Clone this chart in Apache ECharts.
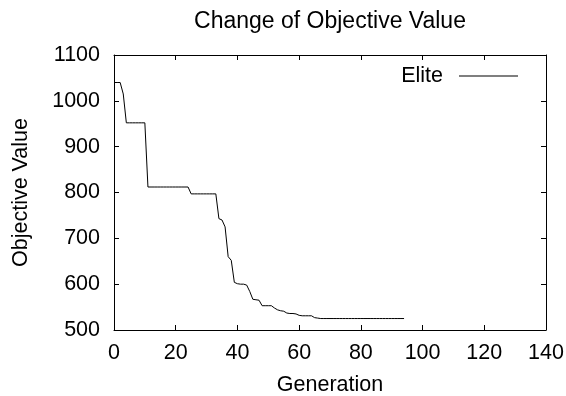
<!DOCTYPE html>
<html>
<head>
<meta charset="utf-8">
<script src="https://cdn.jsdelivr.net/npm/echarts@6/dist/echarts.min.js"></script>
<style>html,body{margin:0;padding:0;background:#fff}#c{width:566px;height:396px}</style>
</head>
<body>
<div id="c"></div>
<script>
var titleText = 'Change of Objective Value';
var seriesName = 'Elite';
var xName = 'Generation';
var yName = 'Objective Value';
var xTicks = [0, 20, 40, 60, 80, 100, 120, 140];
var yTicks = [500, 600, 700, 800, 900, 1000, 1100];
var generations = [];
for (var g = 0; g <= 94; g++) generations.push(g);
var eliteValues = [
  1040, 1040, 1040, 1015, 952, 952, 952, 952, 952, 952,
  952, 812, 812, 812, 812, 812, 812, 812, 812, 812,
  812, 812, 812, 812, 812, 797, 797, 797, 797, 797,
  797, 797, 797, 797, 743, 740, 725, 660, 652, 604,
  601, 600, 600, 598, 584, 567, 566, 565, 553, 553,
  553, 553, 548, 544, 542, 541, 537, 536, 536, 535,
  532, 531, 531, 531, 531, 527, 526, 525, 525, 525,
  525, 525, 525, 525, 525, 525, 525, 525, 525, 525,
  525, 525, 525, 525, 525, 525, 525, 525, 525, 525,
  525, 525, 525, 525, 525
];

var FONT = '"Liberation Sans", Arial, sans-serif';
var FS = 21.5;
var chart = echarts.init(document.getElementById('c'), null, {renderer: 'canvas'});
var pts = generations.map(function (x, i) { return [x, eliteValues[i]]; });
function plain(v) { return String(v); }

function axisCommon(extra) {
  var o = {
    axisLine: {show: true, onZero: false, lineStyle: {color: '#000', width: 1}},
    axisTick: {show: true, inside: true, length: 5, lineStyle: {color: '#000', width: 1}},
    splitLine: {show: false},
    axisLabel: {color: '#000', fontFamily: FONT, fontSize: FS, formatter: plain}
  };
  for (var k in extra) o[k] = extra[k];
  return o;
}

chart.setOption({
  animation: false,
  backgroundColor: '#fff',
  grid: {left: 114, right: 20, top: 55, bottom: 66, containLabel: false, outerBoundsMode: 'none'},
  graphic: [{
    type: 'text', x: 330, y: 22,
    style: {text: titleText, fill: '#000', font: '23px ' + FONT, textAlign: 'center', textVerticalAlign: 'middle'}
  }],
  legend: {
    data: [{name: seriesName, icon: 'rect'}],
    right: 48, top: 65, padding: 0, align: 'right',
    itemWidth: 59, itemHeight: 1,
    textStyle: {color: '#000', fontFamily: FONT, fontSize: FS, padding: [0, 11, 0, 0]}
  },
  xAxis: [
    axisCommon({type: 'value', min: xTicks[0], max: xTicks[xTicks.length - 1], interval: xTicks[1] - xTicks[0],
      name: xName, nameLocation: 'middle', nameGap: 44,
      nameTextStyle: {color: '#000', fontFamily: FONT, fontSize: FS},
      axisLabel: {color: '#000', fontFamily: FONT, fontSize: FS, margin: 12, formatter: plain}}),
    axisCommon({type: 'value', position: 'top', min: xTicks[0], max: xTicks[xTicks.length - 1], interval: xTicks[1] - xTicks[0],
      axisLabel: {show: false}})
  ],
  yAxis: [
    axisCommon({type: 'value', min: yTicks[0], max: yTicks[yTicks.length - 1], interval: yTicks[1] - yTicks[0],
      name: yName, nameLocation: 'middle', nameGap: 82, nameRotate: 90,
      nameTextStyle: {color: '#000', fontFamily: FONT, fontSize: FS},
      axisLabel: {color: '#000', fontFamily: FONT, fontSize: FS, margin: 14, formatter: plain}}),
    axisCommon({type: 'value', position: 'right', min: yTicks[0], max: yTicks[yTicks.length - 1], interval: yTicks[1] - yTicks[0],
      axisLabel: {show: false}})
  ],
  series: [{
    name: seriesName, type: 'line', data: pts, symbol: 'none', showSymbol: false,
    lineStyle: {color: '#000', width: 1}, itemStyle: {color: '#000'}
  }]
});
</script>
</body>
</html>
